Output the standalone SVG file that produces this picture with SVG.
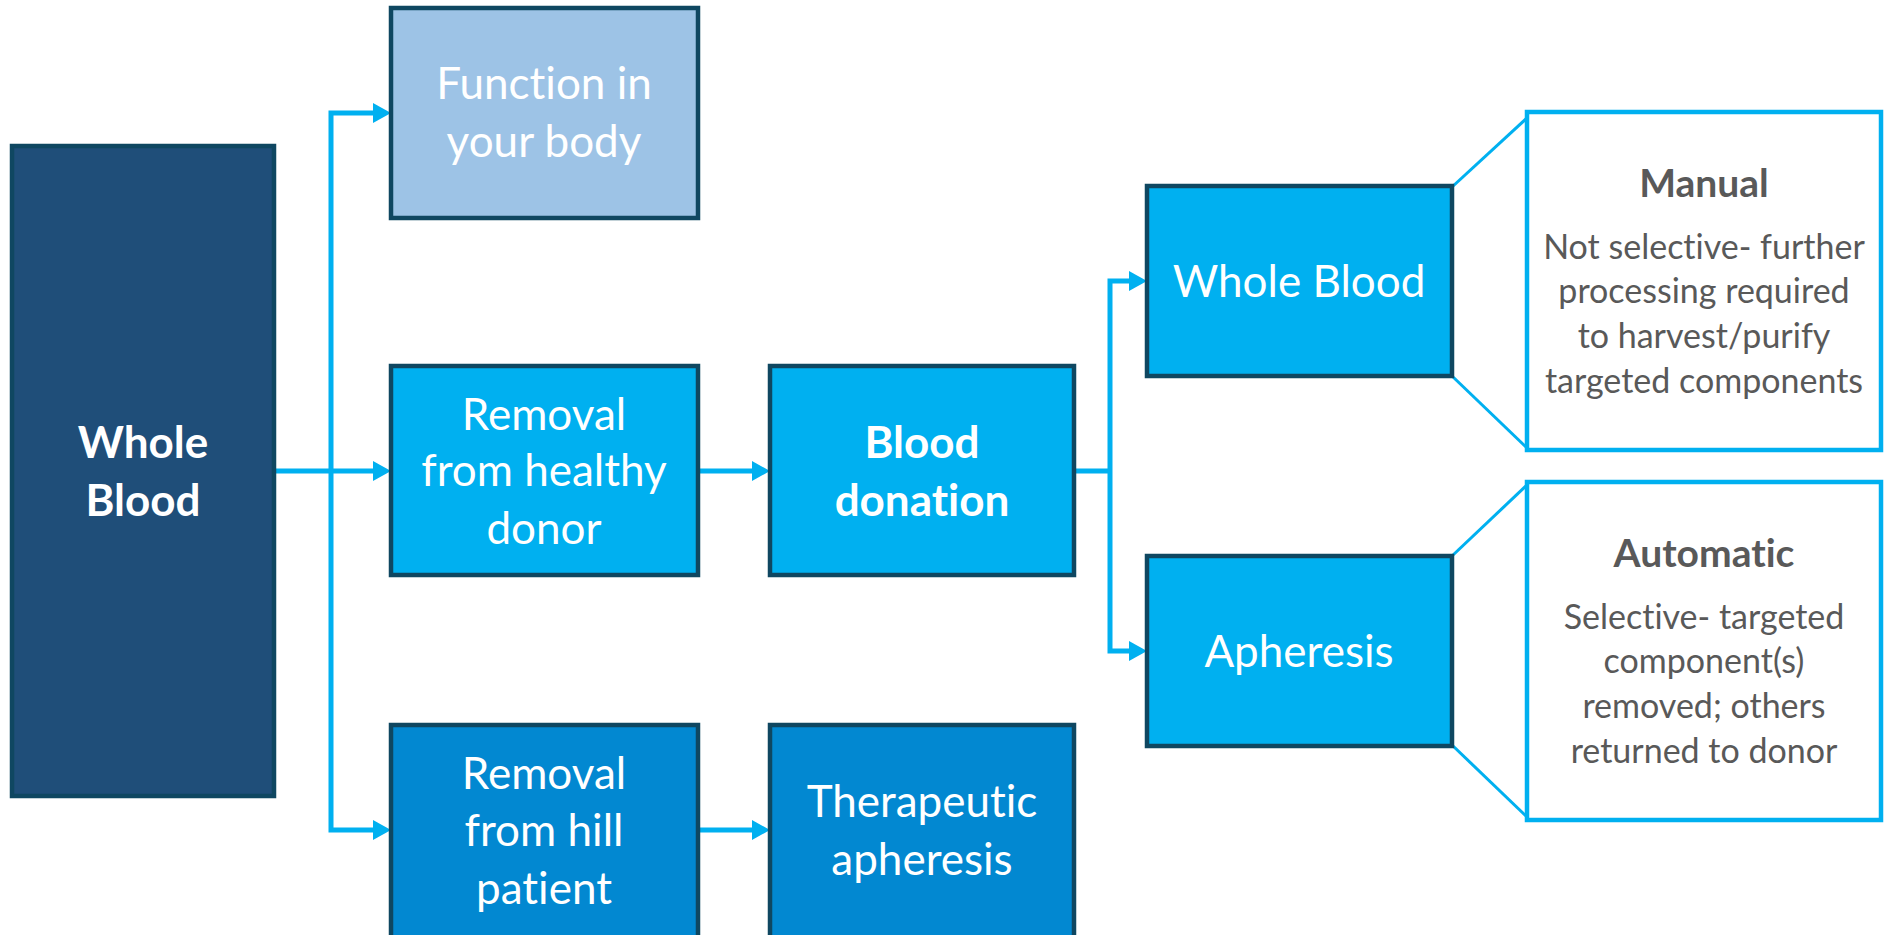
<svg xmlns="http://www.w3.org/2000/svg" width="1886" height="935" viewBox="0 0 1886 935">
<defs>
<style>
.box{stroke:#0F4761;stroke-width:4.5}
.dark{fill:#1F4E79}
.light{fill:#9DC3E6}
.cyan{fill:#00B0F0}
.mid{fill:#0288D1}
.call{fill:#FFFFFF;stroke:#00B0F0;stroke-width:4.5}
text{font-variant-ligatures:none}
.t{font-family:Lato,"Open Sans","Liberation Sans",sans-serif;fill:#FFFFFF;font-size:44px;text-anchor:middle}
.b{font-weight:bold}
.ct{font-family:Lato,"Open Sans","Liberation Sans",sans-serif;fill:#595959;font-size:34px;text-anchor:middle}
.ch{font-size:39px;font-weight:bold}
.con{fill:none;stroke:#00B0F0;stroke-width:5}
.cl{fill:none;stroke:#00B0F0;stroke-width:3}
</style>
<marker id="arr" markerUnits="userSpaceOnUse" markerWidth="20" markerHeight="22" refX="6" refY="10" orient="auto">
<path d="M0,0 L18,10 L0,20 Z" fill="#00B0F0"/>
</marker>
</defs>
<g id="connectors">
<path class="con" d="M274,471 H379" marker-end="url(#arr)"/>
<path class="con" d="M331,471 V113 H379" marker-end="url(#arr)"/>
<path class="con" d="M331,471 V830 H379" marker-end="url(#arr)"/>
<path class="con" d="M698,471 H758" marker-end="url(#arr)"/>
<path class="con" d="M698,830 H758" marker-end="url(#arr)"/>
<path class="con" d="M1074,471 H1110"/>
<path class="con" d="M1110,471 V281 H1135" marker-end="url(#arr)"/>
<path class="con" d="M1110,471 V651 H1135" marker-end="url(#arr)"/>
<path class="cl" d="M1452,187 L1528,117"/>
<path class="cl" d="M1452,376 L1527,448"/>
<path class="cl" d="M1452,556 L1528,484"/>
<path class="cl" d="M1452,745 L1527,817"/>
</g>
<g id="whole-blood-main">
<rect class="box dark" x="12" y="146" width="262" height="650"/>
<text class="t b" x="143" y="458">Whole</text>
<text class="t b" x="143" y="516">Blood</text>
</g>
<g id="function-body">
<rect class="box light" x="391" y="8" width="307" height="210"/>
<text class="t" x="544" y="99">Function in</text>
<text class="t" x="544" y="157">your body</text>
</g>
<g id="removal-healthy">
<rect class="box cyan" x="391" y="366" width="307" height="209"/>
<text class="t" x="544" y="430">Removal</text>
<text class="t" x="544" y="486">from healthy</text>
<text class="t" x="544" y="544">donor</text>
</g>
<g id="blood-donation">
<rect class="box cyan" x="770" y="366" width="304" height="209"/>
<text class="t b" x="922" y="458">Blood</text>
<text class="t b" x="922" y="516">donation</text>
</g>
<g id="removal-hill">
<rect class="box mid" x="391" y="725" width="307" height="220"/>
<text class="t" x="544" y="789">Removal</text>
<text class="t" x="544" y="846">from hill</text>
<text class="t" x="544" y="904">patient</text>
</g>
<g id="therapeutic-apheresis">
<rect class="box mid" x="770" y="725" width="304" height="220"/>
<text class="t" x="922" y="817">Therapeutic</text>
<text class="t" x="922" y="875">apheresis</text>
</g>
<g id="whole-blood-right">
<rect class="box cyan" x="1147" y="186" width="305" height="190"/>
<text class="t" x="1299" y="297">Whole Blood</text>
</g>
<g id="apheresis">
<rect class="box cyan" x="1147" y="556" width="305" height="190"/>
<text class="t" x="1299" y="667">Apheresis</text>
</g>
<g id="manual">
<rect class="call" x="1527" y="112" width="354" height="338"/>
<text class="ct ch" x="1704" y="197">Manual</text>
<text class="ct" x="1704" y="259">Not selective- further</text>
<text class="ct" x="1704" y="303">processing required</text>
<text class="ct" x="1704" y="348">to harvest/purify</text>
<text class="ct" x="1704" y="393">targeted components</text>
</g>
<g id="automatic">
<rect class="call" x="1527" y="482" width="354" height="338"/>
<text class="ct ch" x="1704" y="567">Automatic</text>
<text class="ct" x="1704" y="629">Selective- targeted</text>
<text class="ct" x="1704" y="673">component(s)</text>
<text class="ct" x="1704" y="718">removed; others</text>
<text class="ct" x="1704" y="763">returned to donor</text>
</g>
</svg>
